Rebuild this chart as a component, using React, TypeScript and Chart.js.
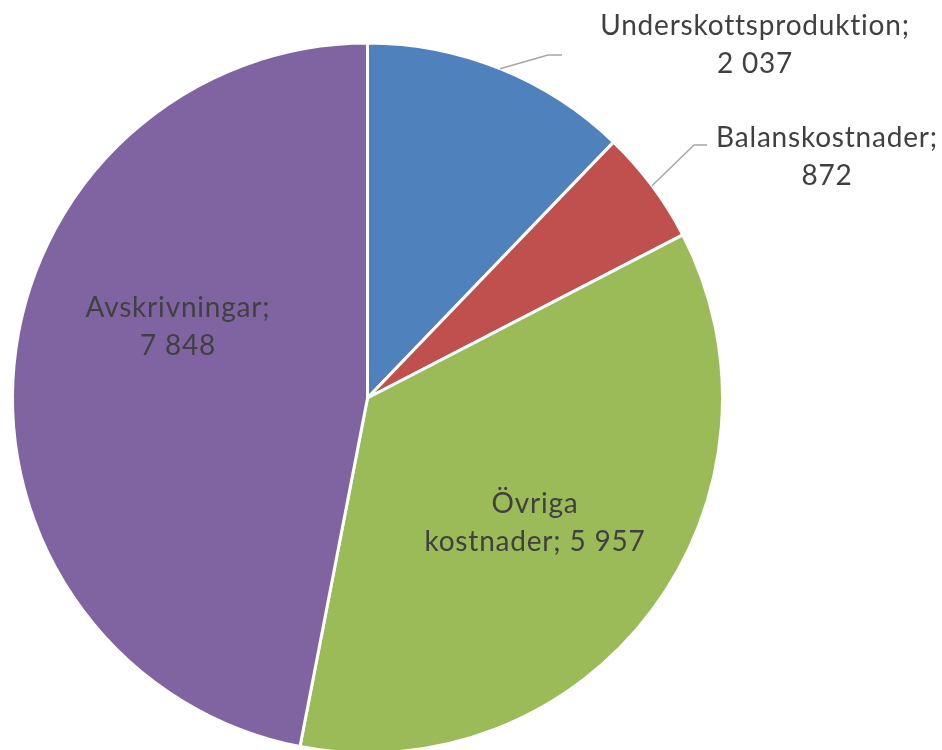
import React, { useEffect, useRef } from "react";
import { Chart, registerables } from "chart.js";

Chart.register(...registerables);

const categories = ["Underskottsproduktion", "Balanskostnader", "Övriga kostnader", "Avskrivningar"];
const values = [2037, 872, 5957, 7848];
const colors = ["#4F81BD", "#C0504D", "#9BBB59", "#8064A2"];
const valueLabels = ["2 037", "872", "5 957", "7 848"];

const FONT = "28px Lato, 'Open Sans', sans-serif";
const TEXT = "#404040";

// label layout: lines of text, center x, first line center y, optional leader line (elbow and end)
const labelLayout = [
  { lines: [categories[0] + ";", valueLabels[0]], x: 755, y: 26, leader: { ex: 548, ey: 55, tx: 562 } },
  { lines: [categories[1] + ";", valueLabels[1]], x: 827, y: 138, leader: { ex: 694, ey: 145, tx: 707 } },
  { lines: ["Övriga", "kostnader; " + valueLabels[2]], x: 535, y: 504, leader: null },
  { lines: [categories[3] + ";", valueLabels[3]], x: 178, y: 308, leader: null },
];

const labelPlugin = {
  id: "sliceLabels",
  afterDatasetsDraw(chart: any) {
    const ctx = chart.ctx;
    const meta = chart.getDatasetMeta(0);
    ctx.save();
    ctx.font = FONT;
    try { (ctx as any).letterSpacing = "0.8px"; } catch (e) {}
    ctx.fillStyle = TEXT;
    ctx.textAlign = "center";
    ctx.textBaseline = "middle";
    meta.data.forEach((arc: any, i: number) => {
      const L = labelLayout[i];
      if (L.leader) {
        const { x, y, startAngle, endAngle, outerRadius } = arc.getProps(["x", "y", "startAngle", "endAngle", "outerRadius"], true);
        const mid = (startAngle + endAngle) / 2;
        const sx = x + Math.cos(mid) * outerRadius;
        const sy = y + Math.sin(mid) * outerRadius;
        ctx.strokeStyle = "#A6A6A6";
        ctx.lineWidth = 1.5;
        ctx.beginPath();
        ctx.moveTo(sx, sy);
        ctx.lineTo(L.leader.ex, L.leader.ey);
        ctx.lineTo(L.leader.tx, L.leader.ey);
        ctx.stroke();
      }
      L.lines.forEach((t, j) => {
        ctx.fillText(t, L.x, L.y + j * 38);
      });
    });
    ctx.restore();
  },
};

export default function App() {
  const ref = useRef<HTMLCanvasElement>(null);
  useEffect(() => {
    if (!ref.current) return;
    const chart = new Chart(ref.current, {
      type: "pie",
      data: {
        labels: categories,
        datasets: [
          {
            data: values,
            backgroundColor: colors,
            borderColor: "#FFFFFF",
            borderWidth: 3,
            radius: 355,
          },
        ],
      },
      options: {
        animation: false,
        responsive: false,
        maintainAspectRatio: false,
        layout: { padding: { left: 0, right: 207, top: 46, bottom: 0 } },
        plugins: {
          legend: { display: false },
          tooltip: { enabled: false },
        },
      },
      plugins: [labelPlugin],
    });
    return () => chart.destroy();
  }, []);
  return (
    <div style={{ position: "fixed", left: 0, top: 0, width: 942, height: 750, background: "#fff" }}>
      <canvas ref={ref} width={942} height={750} style={{ width: 942, height: 750 }} />
    </div>
  );
}
